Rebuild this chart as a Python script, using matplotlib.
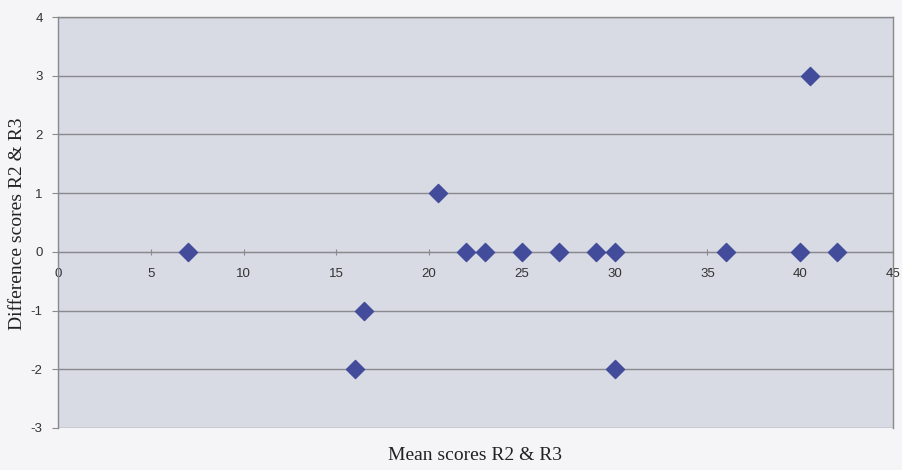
import matplotlib
matplotlib.use("Agg")
import matplotlib.pyplot as plt

# Bland-Altman style data: mean of R2 & R3 vs their difference
mean_scores = [7, 16.5, 16, 20.5, 22, 23, 25, 27, 29, 30, 30, 36, 40, 42, 40.5]
diff_scores = [0, -1, -2, 1, 0, 0, 0, 0, 0, 0, -2, 0, 0, 0, 3]

x_ticks = [0, 5, 10, 15, 20, 25, 30, 35, 40, 45]
y_ticks = [-3, -2, -1, 0, 1, 2, 3, 4]

fig = plt.figure(figsize=(9.02, 4.70), dpi=100, facecolor="#f5f5f7")
ax = fig.add_axes([58 / 902, 42 / 470, (893 - 58) / 902, (428 - 17) / 470])
ax.set_facecolor("#d8dae4")

ax.set_xlim(0, 45)
ax.set_ylim(-3, 4)

for y in y_ticks:
    ax.axhline(y, color="#8a8a8e", lw=1.0, zorder=1)

ax.scatter(mean_scores, diff_scores, marker="D", s=85, color="#424c9a",
           edgecolors="#424c9a", zorder=3)

ax.spines["bottom"].set_position(("data", 0))
ax.spines["bottom"].set_color("#8a8a8e")
for side in ("left", "top", "right"):
    ax.spines[side].set_color("#8a8a8e")
    ax.spines[side].set_linewidth(1.0)

tick_font = dict(family="Liberation Sans", size=9.5, color="#333333")
ax.set_xticks(x_ticks)
ax.set_xticklabels([str(v) for v in x_ticks], **tick_font)
ax.set_yticks(y_ticks)
ax.set_yticklabels([str(v) for v in y_ticks], **tick_font)
ax.tick_params(axis="x", direction="inout", length=5, color="#8a8a8e", pad=9)
ax.tick_params(axis="y", direction="out", length=4, color="#8a8a8e", pad=7)

label_font = dict(family="Liberation Serif", size=14, color="#222222")
fig.text(475 / 902, 15 / 470, "Mean scores R2 & R3", ha="center", va="center", **label_font)
fig.text(18 / 902, (470 - 224) / 470, "Difference scores R2 & R3", ha="center", va="center",
         rotation=90, **label_font)

fig.savefig("out.png", dpi=100, facecolor=fig.get_facecolor())
